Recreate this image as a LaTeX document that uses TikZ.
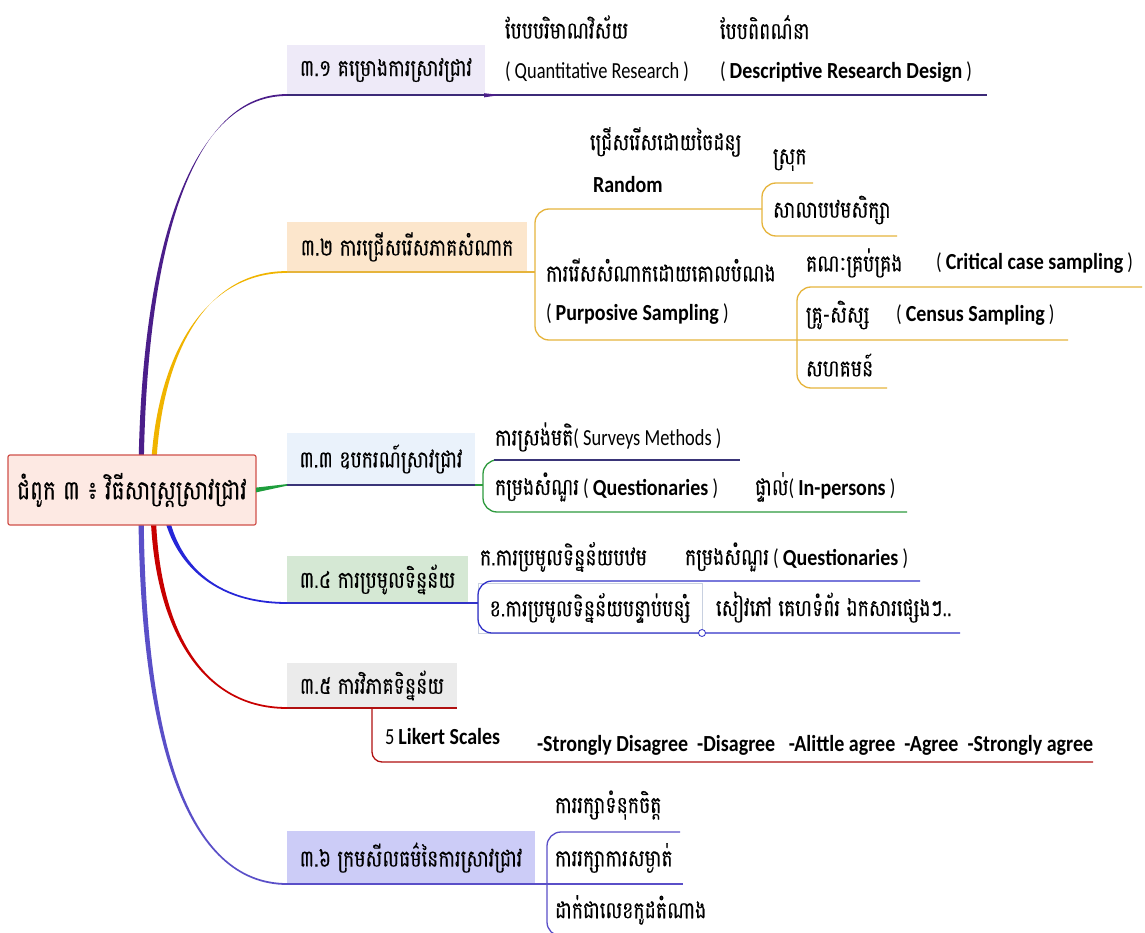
\documentclass[tikz,border=0pt]{standalone}
\usepackage{fontspec}
\setmainfont{Carlito}[FakeStretch=0.8, BoldFeatures={FakeStretch=0.87}]
\newfontfamily\kh{Battambang}[Script=Khmer,FakeStretch=0.8,FakeBold=0.4]
\newcommand\khsize{\fontsize{23.5}{28}\selectfont}
\newcommand\khtxt[1]{{\kh\khsize #1}}
\definecolor{cRootFill}{HTML}{FDE9E3}
\definecolor{cRootLine}{HTML}{D0504A}
\definecolor{cA}{HTML}{4B1E8A}
\definecolor{cAline}{HTML}{3C2A78}
\definecolor{cB}{HTML}{F0B400}
\definecolor{cBline}{HTML}{E6B43C}
\definecolor{cC}{HTML}{1E9E3C}
\definecolor{cCline}{HTML}{2E9A3E}
\definecolor{cNavy}{HTML}{3A3578}
\definecolor{cD}{HTML}{2626D8}
\definecolor{cDline}{HTML}{3232C8}
\definecolor{cE}{HTML}{C80000}
\definecolor{cEline}{HTML}{B01010}
\definecolor{cF}{HTML}{5A4FC8}
\definecolor{fA}{HTML}{EEEAF8}
\definecolor{fB}{HTML}{FCE6CC}
\definecolor{fC}{HTML}{EAF2FB}
\definecolor{fD}{HTML}{D5E8D4}
\definecolor{fE}{HTML}{EBEBEB}
\definecolor{fF}{HTML}{CCCCF7}
\definecolor{cThin}{HTML}{C8D0E0}
\newcommand\branchcurve[5]{%
  \fill[#1] ([xshift=-2.6pt]#2) .. controls +#4 and +#5 .. ([yshift=-0.9pt]#3)
     -- ([yshift=0.9pt]#3) .. controls +#5 and +#4 .. ([xshift=2.6pt]#2) -- cycle;}
\begin{document}
\begin{tikzpicture}[x=1pt,y=-1pt,
  every node/.style={inner sep=0pt, outer sep=0pt},
  kht/.style={anchor=west, font=\kh\khsize},
  ent/.style={anchor=west, font=\fontsize{23}{27}\selectfont},
  topicbox/.style={anchor=south west, minimum height=50, font=\kh\khsize},
  ln/.style={line width=1.3pt},
  brk/.style={line width=1.3pt, rounded corners=14pt},
]
\useasboundingbox (0,0) rectangle (1145,933);
\fill[white] (0,0) rectangle (1145,933);

% ---- topic boxes
\node[topicbox, fill=fA, minimum width=198] (b1) at (287,95) {៣.១ គម្រោងការស្រាវជ្រាវ};
\node[topicbox, fill=fB, minimum width=240] (b2) at (287,272) {៣.២ ការជ្រើសរើសភាគសំណាក};
\node[topicbox, fill=fC, minimum width=188, minimum height=52] (b3) at (287,485) {៣.៣ ឧបករណ៍ស្រាវជ្រាវ};
\node[topicbox, fill=fD, minimum width=181, minimum height=47] (b4) at (287,603) {៣.៤ ការប្រមូលទិន្នន័យ};
\node[topicbox, fill=fE, minimum width=170, minimum height=45] (b5) at (287,708) {៣.៥ ការវិភាគទិន្នន័យ};
\node[topicbox, fill=fF, minimum width=248, minimum height=53] (b6) at (287,884) {៣.៦ ក្រមសីលធម៌នៃការស្រាវជ្រាវ};

% ---- main branches
\coordinate (r1) at (141,490);
\coordinate (r2) at (153,490);
\coordinate (r4) at (163,495);
\coordinate (r5) at (153,500);
\coordinate (r6) at (141,500);
\branchcurve{cA}{r1}{b1.south west}{(0,-230)}{(-100,0)}
\branchcurve{cB}{r2}{b2.south west}{(0,-120)}{(-90,0)}
\branchcurve{cD}{r4}{b4.south west}{(5,60)}{(-80,0)}
\branchcurve{cE}{r5}{b5.south west}{(0,120)}{(-90,0)}
\branchcurve{cF}{r6}{b6.south west}{(0,240)}{(-100,0)}

% ---- root
\node[draw=cRootLine, fill=cRootFill, line width=1.2pt, rounded corners=2pt,
      minimum width=248, minimum height=70, anchor=north west,
      font=\kh\fontsize{27}{32}\selectfont] (root) at (8,455) {ជំពូក ៣ ៖ វិធីសាស្ត្រស្រាវជ្រាវ};
\fill[cC] ([yshift=2.4pt]root.east) -- ([yshift=0.9pt]b3.south west) -- ([yshift=-0.7pt]b3.south west) -- ([yshift=-2.4pt]root.east) -- cycle;

% ---- 3.1
\node[kht] (t11) at (505,27) {បែបបរិមាណវិស័យ};
\node[ent] (t11e) at (505,72) {( Quantitative Research )};
\node[kht] (t12) at (720,27) {បែបពិពណ៌នា};
\node[ent] (t12e) at (720,72) {( \textbf{Descriptive Research Design} )};
\coordinate (e1) at (987,95);
\draw[ln, cAline] (b1.south west) -- (e1);
\fill[cA] (484,93.2) -- (500,95) -- (484,97.4) -- cycle;

% ---- 3.2
\node[kht] (t21) at (590,142) {ជ្រើសរើសដោយចៃដន្យ};
\node[ent] (t21e) at (593,185) {\textbf{Random}};
\node[kht] (t211) at (773,160) {ស្រុក};
\node[kht] (t212) at (773,210) {សាលាបឋមសិក្សា};
\node[kht] (t22) at (546,270) {ការរើសសំណាកដោយគោលបំណង};
\node[ent] (t22e) at (546,314) {( \textbf{Purposive Sampling} )};
\node[kht] (t221) at (806,263) {គណៈគ្រប់គ្រង};
\node[ent] (t221e) at (936,263) {( \textbf{Critical case sampling} )};
\node[kht] (t222) at (806,315) {គ្រូ-សិស្ស};
\node[ent] (t222e) at (896,315) {( \textbf{Census Sampling} )};
\node[kht] (t223) at (806,365) {សហគមន៍};
\draw[ln, cBline] (b2.south west) -- (b2.south east) -- (535,272);
\draw[brk, cBline] (762,209) -- (535,209) -- (535,340) -- (1068,340);
\draw[brk, cBline] (813,183) -- (762,183) -- (762,236) -- (897,236);
\draw[brk, cBline] (1142,287) -- (797,287) -- (797,388) -- (887,388);

% ---- 3.3
\node[ent] (t31) at (495,437) {\khtxt{ការស្រង់មតិ}( Surveys Methods )};
\node[ent] (t32) at (495,487) {\khtxt{កម្រងសំណួរ} ( \textbf{Questionaries} )};
\node[ent] (t321) at (755,487) {\khtxt{ផ្ទាល់}( \textbf{In-persons} )};
\draw[ln, cNavy] (b3.south west) -- (b3.south east);
\draw[ln, cCline] (b3.south east) -- (483,485);
\draw[brk, cCline] (496,460) -- (483,460) -- (483,512) -- (907,512);
\draw[ln, cNavy] (494,460) -- (740,460);

% ---- 3.4
\node[kht] (t41) at (480,557) {ក.ការប្រមូលទិន្នន័យបឋម};
\node[ent] (t411) at (685,557) {\khtxt{កម្រងសំណួរ} ( \textbf{Questionaries} )};
\node[draw=cThin, line width=0.8pt, anchor=north west, minimum width=224, minimum height=50,
      font=\kh\khsize] (t42) at (478,583) {ខ.ការប្រមូលទិន្នន័យបន្ទាប់បន្សំ};
\node[kht] (t421) at (716,607) {សៀវភៅ គេហទំព័រ ឯកសារផ្សេងៗ..};
\draw[ln, cDline] (b4.south west) -- (b4.south east) -- (478,603);
\draw[brk, cDline] (920,581) -- (478,581) -- (478,633) -- (960,633);
\draw[cDline, fill=white, line width=0.8pt] (t42.south east) circle (3.5);

% ---- 3.5
\node[ent] (t51) at (385,737) {5 \textbf{Likert Scales}};
\node[ent] (t52) at (537,745) {\textbf{-Strongly Disagree\ \ -Disagree\ \ \ -Alittle agree\ \ -Agree\ \ -Strongly agree}};
\draw[ln, cEline] (b5.south west) -- (b5.south east);
\draw[line width=1.3pt, rounded corners=10pt, cEline] (b5.south) -- (372,762) -- (1093,762);

% ---- 3.6
\node[kht] (t61) at (555,805) {ការរក្សាទំនុកចិត្ត};
\node[kht] (t62) at (555,858) {ការរក្សាការសម្ងាត់};
\node[kht] (t63) at (555,910) {ដាក់ជាលេខកូដតំណាង};
\draw[ln, cF] (b6.south west) -- (683,884);
\draw[brk, cF] (680,832) -- (547,832) -- (547,936) -- (712,936);
\end{tikzpicture}
\end{document}
